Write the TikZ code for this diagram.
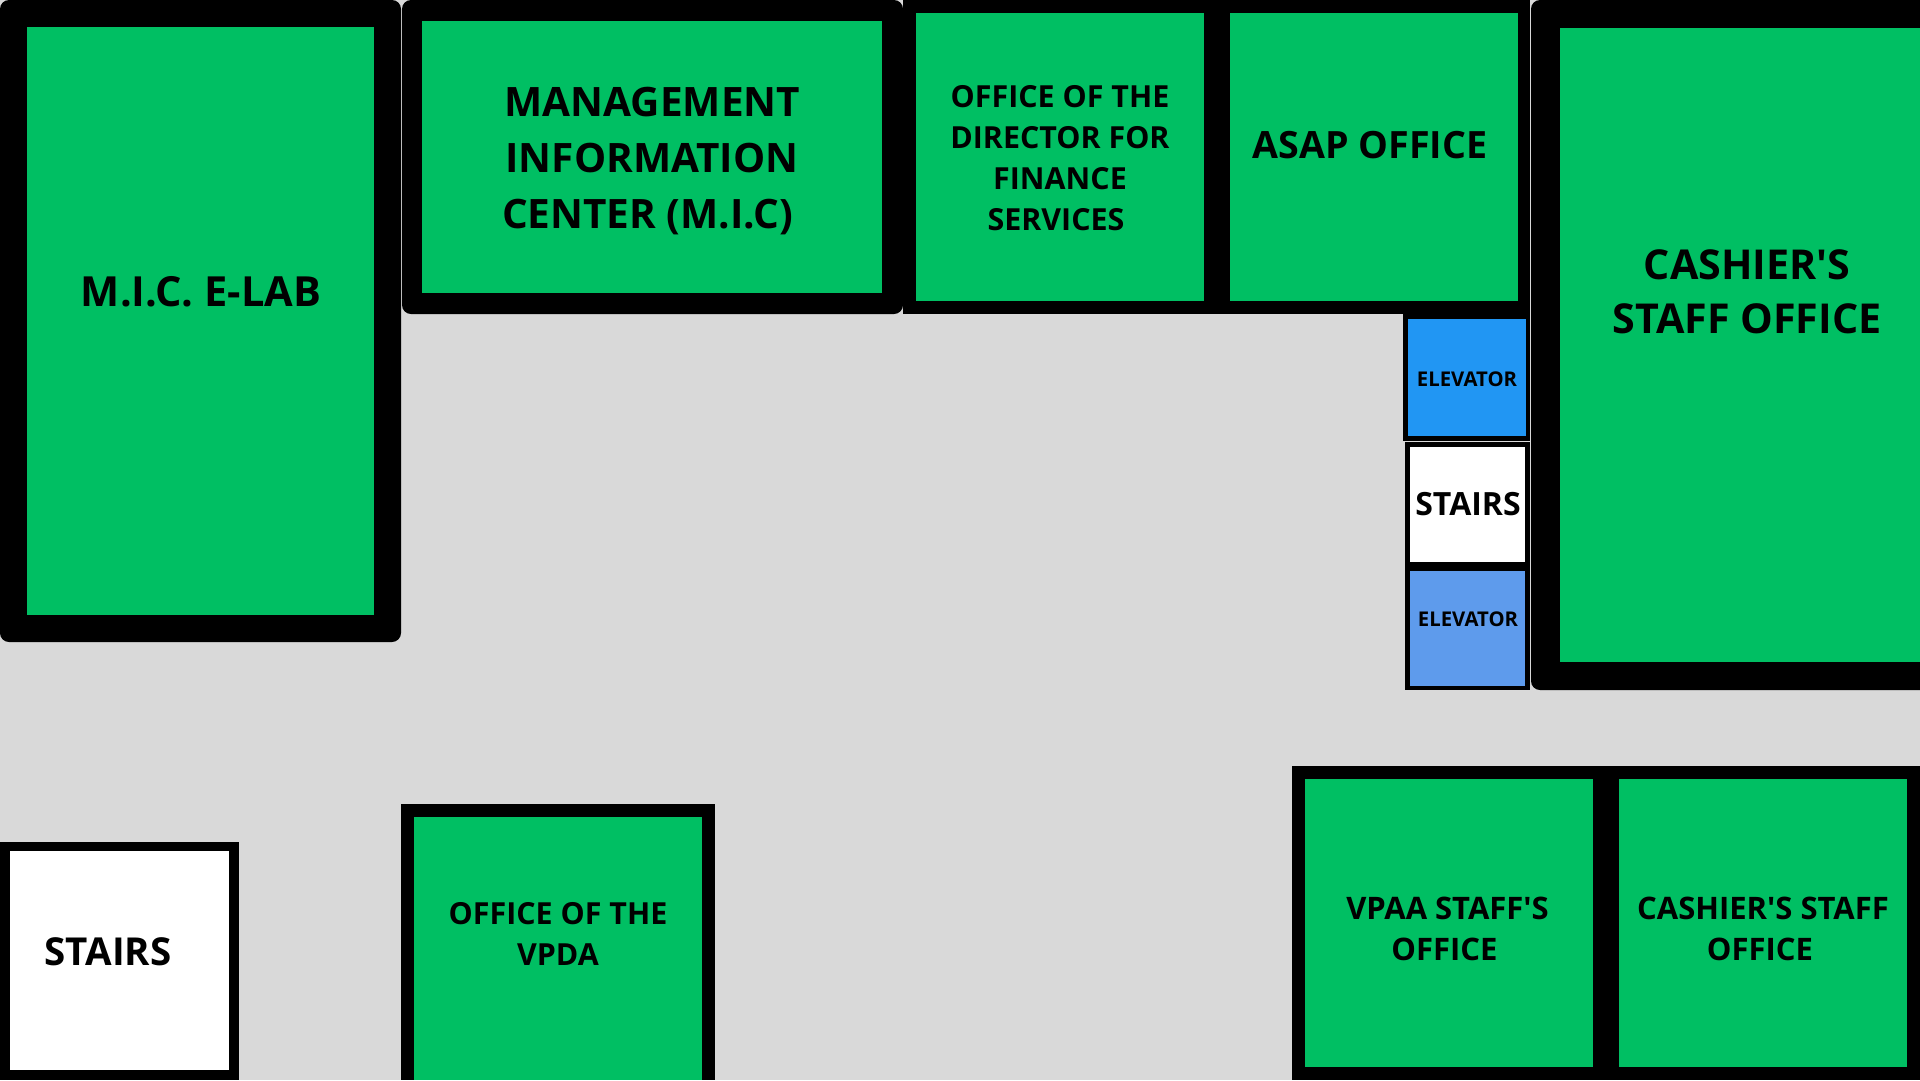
\documentclass[tikz,border=0pt]{standalone}
\usepackage{fontspec}
\setmainfont{Open Sans}[BoldFont=* Bold,Ligatures=TeXOff]
\definecolor{floorgrey}{HTML}{D9D9D9}
\definecolor{roomgreen}{HTML}{00BF63}
\definecolor{liftA}{HTML}{2196F3}
\definecolor{liftB}{HTML}{5E9BEC}
\tikzset{
  lbl/.style 2 args={align=center,inner sep=0pt,text=black,font=\bfseries\fontsize{#1}{#2}\selectfont},
  wall/.style={fill=black},
  rwall/.style={fill=black,rounded corners=9pt},
}
\newcommand{\trail}[1]{\hbox to #1pt{}}
\begin{document}
\begin{tikzpicture}[x=1pt,y=-1pt]
\useasboundingbox (0,0) rectangle (1920,1080);
\fill[floorgrey] (0,0) rectangle (1920,1080);
% M.I.C. E-LAB
\fill[rwall] (0,0) rectangle (401,642);
\fill[roomgreen] (27,27) rectangle (374,615);
% MIC
\fill[rwall] (402,0) rectangle (903,314);
\fill[roomgreen] (422,21) rectangle (882,293);
% Director, ASAP
\fill[wall] (903,0) rectangle (1530,314);
\fill[roomgreen] (916,13) rectangle (1204,301);
\fill[roomgreen] (1230,13) rectangle (1518,301);
% Cashier top
\fill[rwall] (1531,0) rectangle (1940,690);
\fill[roomgreen] (1560,28) rectangle (1920,662);
% lifts
\fill[wall] (1403,314) rectangle (1530,441);
\fill[liftA] (1408,319) rectangle (1526,436);
\fill[wall] (1405,442) rectangle (1530,690);
\fill[white] (1410,447) rectangle (1525,562);
\fill[liftB] (1410,571) rectangle (1525,686);
% bottom
\fill[wall] (0,842) rectangle (239,1080);
\fill[white] (10,851) rectangle (229,1070);
\fill[wall] (401,804) rectangle (715,1080);
\fill[roomgreen] (414,817) rectangle (702,1080);
\fill[wall] (1292,766) rectangle (1920,1080);
\fill[roomgreen] (1305,779) rectangle (1593,1067);
\fill[roomgreen] (1619,779) rectangle (1907,1067);
% labels
\node[lbl={41.5}{56}] (elab) at (201,292) {M.I.C. E-LAB};
\node[lbl={40.5}{56}] (mic) at (652.5,161) {MANAGEMENT\\INFORMATION\trail{1}\\CENTER (M.I.C)\trail{10}};
\node[lbl={30.4}{41}] (dir) at (1060,158) {OFFICE OF THE\\DIRECTOR FOR\\FINANCE\\SERVICES\trail{8}};
\node[lbl={37.6}{50}] (asap) at (1370,145) {ASAP OFFICE};
\node[lbl={41.2}{54}] (cash) at (1747,292) {CASHIER'S\\STAFF OFFICE};
\node[lbl={20.3}{24}] (ela) at (1467,379) {ELEVATOR};
\node[lbl={32}{36}] (st) at (1468,504) {STAIRS};
\node[lbl={20.3}{24}] (elb) at (1468,619) {ELEVATOR};
\node[lbl={38.5}{50}] (stb) at (108,952) {STAIRS};
\node[lbl={30.4}{41}] (vpda) at (558,934) {OFFICE OF THE\\VPDA};
\node[lbl={31}{41}] (vpaa) at (1447.5,929) {VPAA STAFF'S\\OFFICE\trail{6}};
\node[lbl={31}{41}] (cash2) at (1763,929) {CASHIER'S STAFF\\OFFICE\trail{6}};
\end{tikzpicture}
\end{document}
